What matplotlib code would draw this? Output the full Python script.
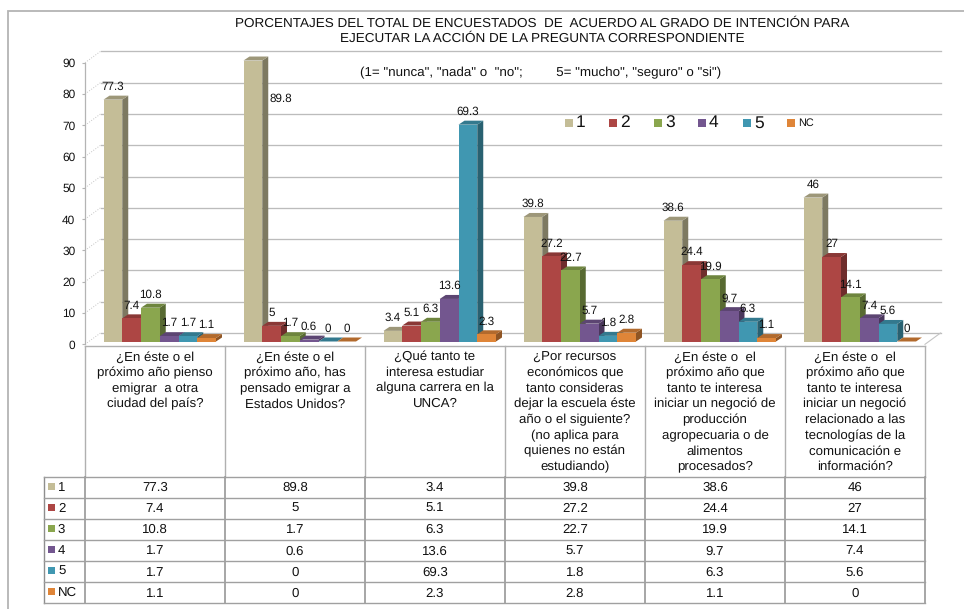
import matplotlib
matplotlib.use("Agg")
import matplotlib.pyplot as plt
from matplotlib.patches import Polygon, Rectangle
from matplotlib.colors import to_rgb

plt.rcParams['font.family'] = ['Liberation Sans', 'DejaVu Sans']
plt.rcParams['text.hinting'] = 'no_hinting'
plt.rcParams['text.hinting_factor'] = 8

W, H = 964, 609
title = ("PORCENTAJES DEL TOTAL DE ENCUESTADOS  DE  ACUERDO AL GRADO DE INTENCIÓN PARA\n"
         "EJECUTAR LA ACCIÓN DE LA PREGUNTA CORRESPONDIENTE")
subtitle = '(1= "nunca", "nada" o  "no";         5= "mucho", "seguro" o "si")'
categories = [
    "¿En éste o el\npróximo año pienso\nemigrar  a otra\nciudad del país?",
    "¿En éste o el\npróximo año, has\npensado emigrar a\nEstados Unidos?",
    "¿Qué tanto te\ninteresa estudiar\nalguna carrera en la\nUNCA?",
    "¿Por recursos\neconómicos que\ntanto consideras\ndejar la escuela éste\naño o el siguiente?\n(no aplica para\nquienes no están\nestudiando)",
    "¿En éste o  el\npróximo año que\ntanto te interesa\niniciar un negoció de\nproducción\nagropecuaria o de\nalimentos\nprocesados?",
    "¿En éste o  el\npróximo año que\ntanto te interesa\niniciar un negoció\nrelacionado a las\ntecnologías de la\ncomunicación e\ninformación?",
]
series_names = ["1", "2", "3", "4", "5", "NC"]
s1 = [77.3, 89.8, 3.4, 39.8, 38.6, 46]
s2 = [7.4, 5, 5.1, 27.2, 24.4, 27]
s3 = [10.8, 1.7, 6.3, 22.7, 19.9, 14.1]
s4 = [1.7, 0.6, 13.6, 5.7, 9.7, 7.4]
s5 = [1.7, 0, 69.3, 1.8, 6.3, 5.6]
snc = [1.1, 0, 2.3, 2.8, 1.1, 0]
series = [s1, s2, s3, s4, s5, snc]
colors = ["#C4BD97", "#AD4644", "#8AA64E", "#73568F", "#4097B1", "#DF8538"]
yticks = list(range(0, 100, 10))

fig = plt.figure(figsize=(W / 100, H / 100), dpi=100, facecolor="white")

# pixel overlay for the frame, table and legend
ov = fig.add_axes([0, 0, 1, 1], zorder=3)
ov.set_xlim(0, W); ov.set_ylim(H, 0); ov.axis("off"); ov.patch.set_alpha(0)

# chart axes
L, R, Y0, Y90 = 85, 925, 344.3, 62.7
ax = fig.add_axes([L / W, 1 - Y0 / H, (R - L) / W, (Y0 - Y90) / H], zorder=2)
ax.patch.set_alpha(0)
ax.set_xlim(0, 6); ax.set_ylim(0, 90)
ppx = 6 / (R - L)
ppy = 90 / (Y0 - Y90)
for s in ("top", "right", "bottom"):
    ax.spines[s].set_visible(False)
ax.spines["left"].set_color("#b4b4b4"); ax.spines["left"].set_linewidth(0.9)
ax.set_xticks([])
ax.set_yticks(yticks)
ax.tick_params(axis="y", length=2.5, width=0.8, color="#b4b4b4", pad=4.5, labelsize=8.6, labelcolor="#111111")

# back wall
wx, wy = 15.5 * ppx, 11.3 * ppy
for t in yticks:
    ax.plot([wx, 6 + wx], [t + wy, t + wy], color="#bcbcbc", lw=0.95, clip_on=False, zorder=1)
    ax.plot([0, wx], [t, t + wy], color="#c4c4c4", lw=0.7, ls=":", clip_on=False, zorder=1)
ax.plot([6, 6 + wx], [0, wy], color="#c4c4c4", lw=0.8, clip_on=False, zorder=1)

# bars
bw = 18.75 * ppx
start = 18.5 * ppx
base = 2.8 * ppy
dx, dy = 6 * ppx, 4 * ppy

def shade(c, f):
    return tuple(v * f for v in to_rgb(c))

z = 2
for c in range(6):
    for j, (vals, col) in enumerate(zip(series, colors)):
        v = vals[c]
        x0 = c + start + j * bw
        x1 = x0 + bw
        top = base + v
        ax.add_patch(Polygon([(x1, base), (x1 + dx, base + dy), (x1 + dx, top + dy), (x1, top)],
                             closed=True, fc=shade(col, 0.64), ec="none", clip_on=False, zorder=z))
        ax.add_patch(Polygon([(x0, top), (x0 + dx, top + dy), (x1 + dx, top + dy), (x1, top)],
                             closed=True, fc=shade(col, 0.80), ec="none", clip_on=False, zorder=z))
        ax.bar(x0 + bw / 2, v, width=bw, bottom=base, color=col, linewidth=0, clip_on=False, zorder=z)
        z += 0.01

# data labels
for c in range(6):
    for j, vals in enumerate(series):
        v = vals[c]
        xc = c + start + (j + 0.5) * bw
        yc = base + v + 12.8 * ppy
        if c == 1 and j == 0:   # label pushed beside the tall bar
            xc += 28 * ppx
            yc -= 51.5 * ppy
        ax.text(xc, yc, f"{v:g}", ha="center", va="center", fontsize=8.4, color="#111111",
                clip_on=False, zorder=20)

# titles
ov.text(542, 31, title, ha="center", va="center", fontsize=9.7, linespacing=1.35, color="#111111")
ov.text(541, 73, subtitle, ha="center", va="center", fontsize=9.6, color="#111111")

# frame
ov.plot([7.5, 7.5, W], [H, 10.5, 10.5], color="#b4b4b4", lw=1.3, solid_joinstyle="miter")

# legend
leg_x = [565, 609, 654, 698, 743, 787]
for x, name, col in zip(leg_x, series_names, colors):
    ov.add_patch(Rectangle((x, 118.5), 8, 8, fc=col, ec="none"))
    if name == "NC":
        ov.text(x + 11, 123, name, ha="left", va="center", fontsize=7.8, color="#111111")
    else:
        ov.text(x + 11, 123, name, ha="left", va="center", fontsize=12.5, color="#111111")

# table
col_x = [L + k * (R - L) / 6 for k in range(7)]
row_top = 476.7
row_h = 21.1
row_y = [row_top + k * row_h for k in range(7)]
leg_left = 43.5
dark = "#8e8e8e"; light = "#b0b0b0"
ov.plot([L, R], [345.5, 345.5], color=light, lw=1.0)
for x in col_x:
    ov.plot([x, x], [345.5, row_top], color=light, lw=1.0)
    ov.plot([x, x], [row_top, row_y[-1]], color=dark, lw=1.1)
ov.plot([leg_left, leg_left], [row_top, row_y[-1]], color=dark, lw=1.0)
for y in row_y:
    ov.plot([leg_left, R], [y, y], color="#a0a0a0", lw=1.0)

for k, label in enumerate(categories):
    ov.text((col_x[k] + col_x[k + 1]) / 2, 351, label, ha="center", va="top", fontsize=9.5,
            linespacing=1.37, color="#111111")
for r, (name, vals, col) in enumerate(zip(series_names, series, colors)):
    ym = row_y[r] + row_h / 2
    ov.add_patch(Rectangle((48, ym - 4.5), 7, 7, fc=col, ec="none"))
    ov.text(58, ym, name, ha="left", va="center", fontsize=9.5, color="#111111")
    for k, v in enumerate(vals):
        ov.text((col_x[k] + col_x[k + 1]) / 2, ym + 0.5, f"{v:g}", ha="center", va="center",
                fontsize=9.5, color="#111111")

fig.savefig("out.png", dpi=100, facecolor="white")
